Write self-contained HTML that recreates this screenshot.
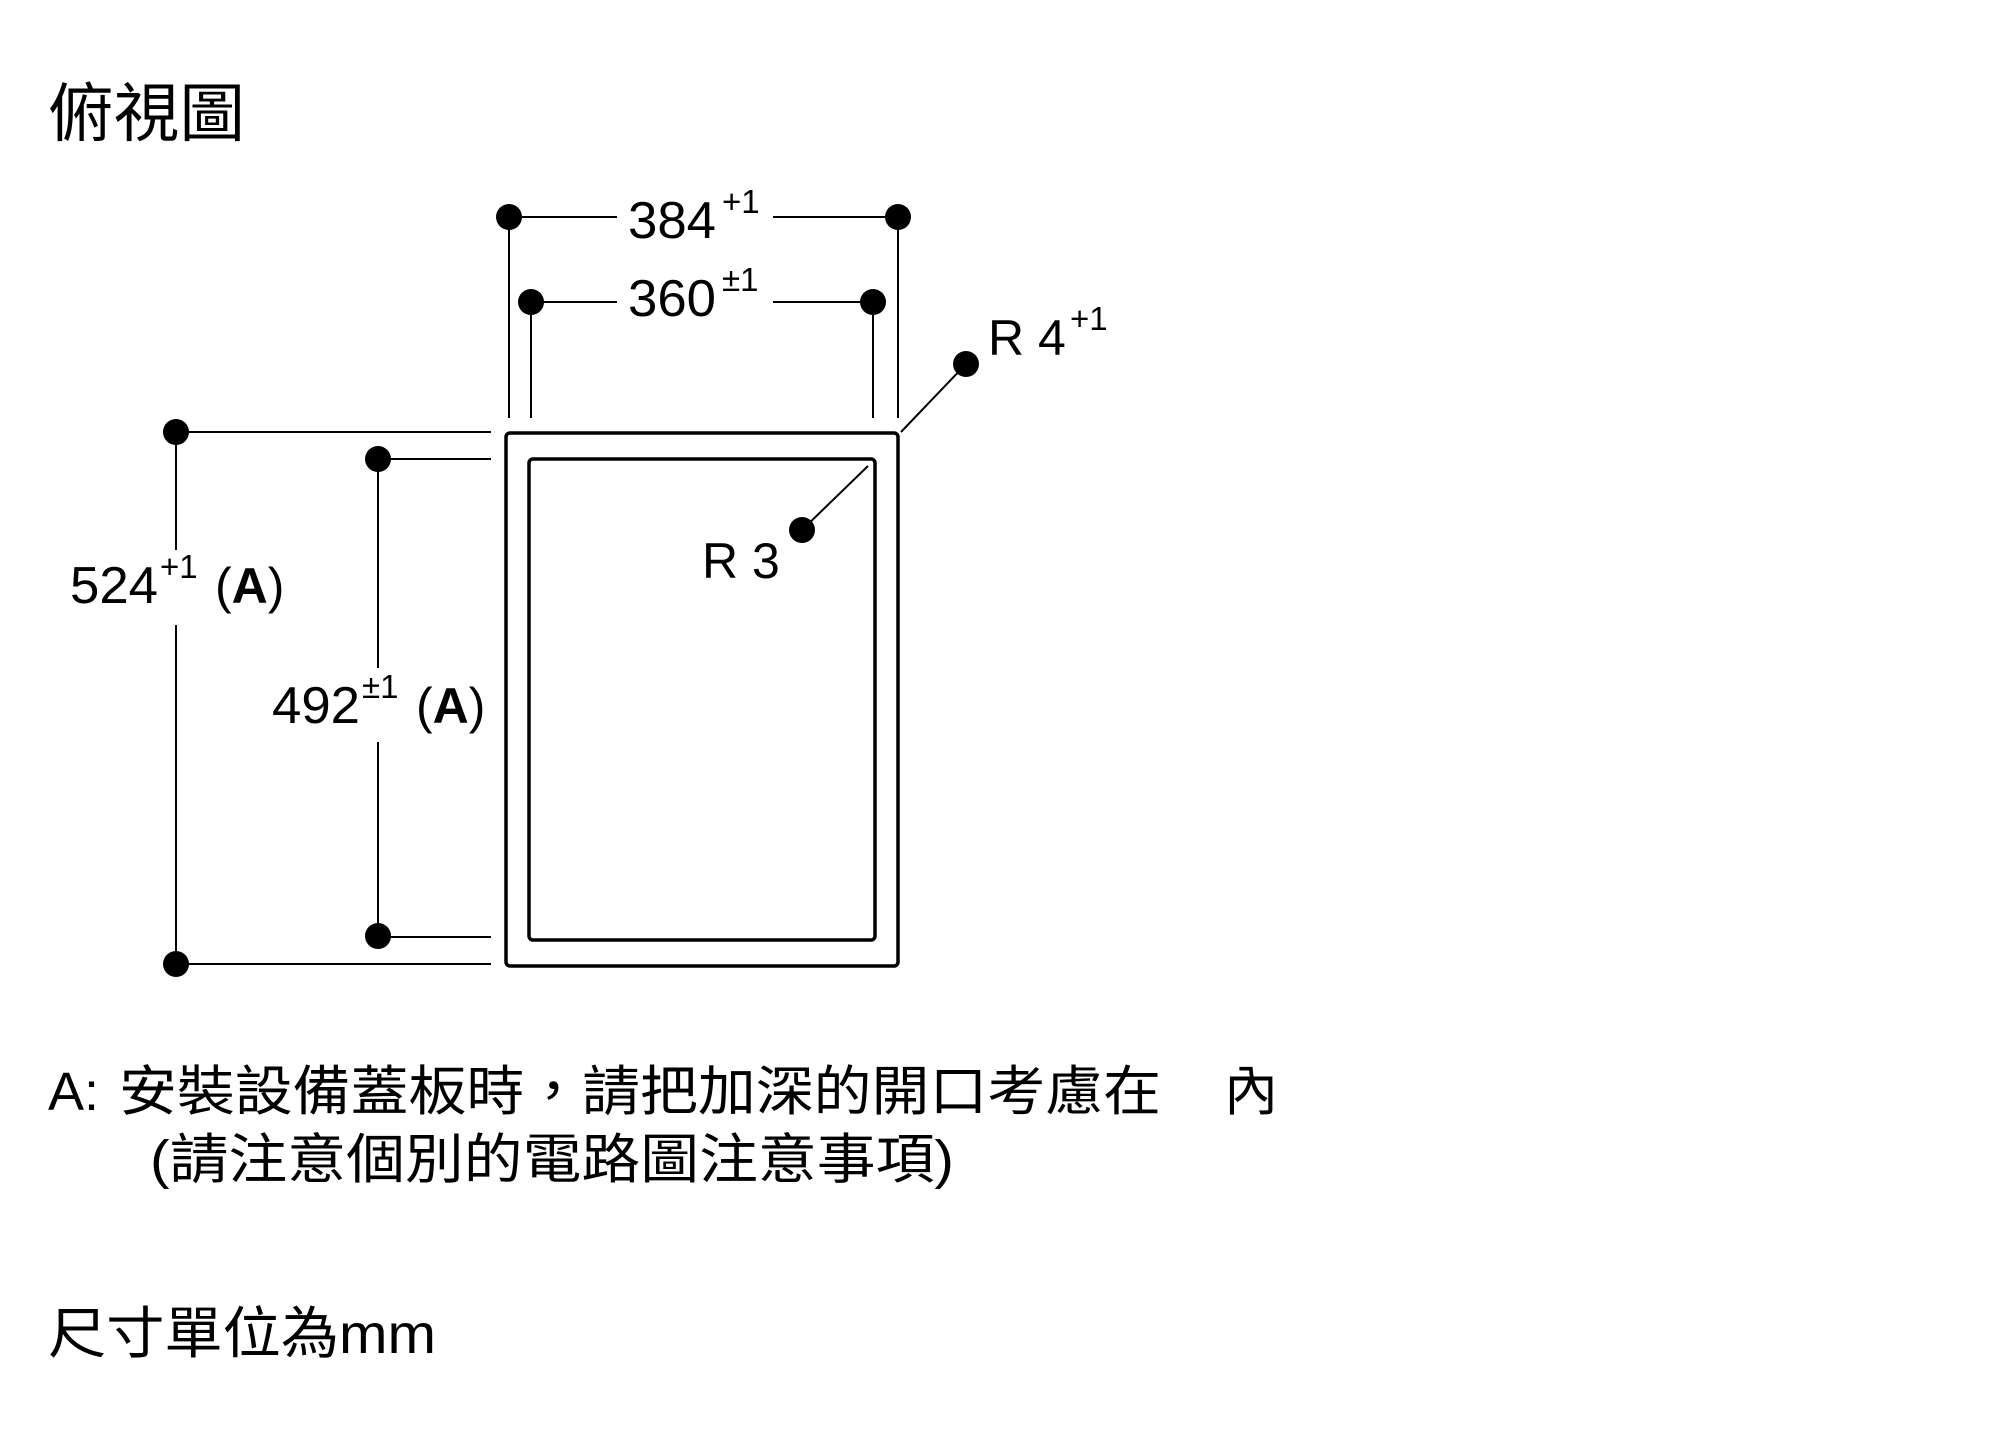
<!DOCTYPE html>
<html><head><meta charset="utf-8"><style>
html,body{margin:0;padding:0;background:#fff;}
svg{display:block;}
text{font-family:"Liberation Sans","Noto Sans CJK TC",sans-serif;fill:#000;}
</style></head><body>
<svg width="2000" height="1452" viewBox="0 0 2000 1452" xmlns="http://www.w3.org/2000/svg">
<text x="48" y="136" font-size="64" textLength="197" lengthAdjust="spacingAndGlyphs">俯視圖</text>

<g stroke="#000" fill="none">
<rect x="506" y="433" width="392" height="533" rx="4" stroke-width="3.5"/>
<rect x="529" y="459" width="346" height="481" rx="4" stroke-width="3.5"/>
<g stroke-width="2">
<line x1="509" y1="217" x2="617" y2="217"/>
<line x1="773" y1="217" x2="898" y2="217"/>
<line x1="509" y1="217" x2="509" y2="418"/>
<line x1="898" y1="217" x2="898" y2="418"/>
<line x1="531" y1="302" x2="617" y2="302"/>
<line x1="773" y1="302" x2="873" y2="302"/>
<line x1="531" y1="302" x2="531" y2="418"/>
<line x1="873" y1="302" x2="873" y2="418"/>
<line x1="966" y1="364" x2="901" y2="432"/>
<line x1="802" y1="530" x2="868" y2="466"/>
<line x1="176" y1="432" x2="491" y2="432"/>
<line x1="176" y1="964" x2="491" y2="964"/>
<line x1="176" y1="432" x2="176" y2="550"/>
<line x1="176" y1="625" x2="176" y2="964"/>
<line x1="378" y1="459" x2="491" y2="459"/>
<line x1="378" y1="937" x2="491" y2="937"/>
<line x1="378" y1="459" x2="378" y2="668"/>
<line x1="378" y1="742" x2="378" y2="937"/>
</g>
</g>
<g fill="#000">
<circle cx="509" cy="217" r="13"/><circle cx="898" cy="217" r="13"/>
<circle cx="531" cy="302" r="13"/><circle cx="873" cy="302" r="13"/>
<circle cx="966" cy="364" r="13"/>
<circle cx="802" cy="530" r="13"/>
<circle cx="176" cy="432" r="13"/><circle cx="176" cy="964" r="13"/>
<circle cx="378" cy="459" r="13"/><circle cx="378" cy="936" r="13"/>
</g>

<text x="628" y="238" font-size="52" textLength="88" lengthAdjust="spacingAndGlyphs">384</text>
<text x="722" y="213" font-size="33">+1</text>
<text x="628" y="316" font-size="52" textLength="88" lengthAdjust="spacingAndGlyphs">360</text>
<text x="722" y="291" font-size="33">±1</text>
<text x="988" y="355" font-size="50">R 4</text>
<text x="1070" y="330" font-size="33">+1</text>
<text x="702" y="578" font-size="50">R 3</text>
<text x="70" y="603" font-size="52" textLength="88" lengthAdjust="spacingAndGlyphs">524</text>
<text x="160" y="578" font-size="33">+1</text>
<text x="215" y="603" font-size="50">(<tspan font-weight="bold">A</tspan>)</text>
<text x="272" y="723" font-size="52" textLength="88" lengthAdjust="spacingAndGlyphs">492</text>
<text x="362" y="698" font-size="33">±1</text>
<text x="416" y="723" font-size="50">(<tspan font-weight="bold">A</tspan>)</text>

<text x="48" y="1110" font-size="54">A:</text>
<text x="119" y="1110" font-size="54" textLength="1042" lengthAdjust="spacingAndGlyphs">安裝設備蓋板時，請把加深的開口考慮在</text>
<text x="1224" y="1110" font-size="54">內</text>
<text x="150" y="1178" font-size="54" textLength="804" lengthAdjust="spacingAndGlyphs">(請注意個別的電路圖注意事項)</text>
<text x="48" y="1353" font-size="56" textLength="388" lengthAdjust="spacingAndGlyphs">尺寸單位為mm</text>
</svg>
</body></html>
